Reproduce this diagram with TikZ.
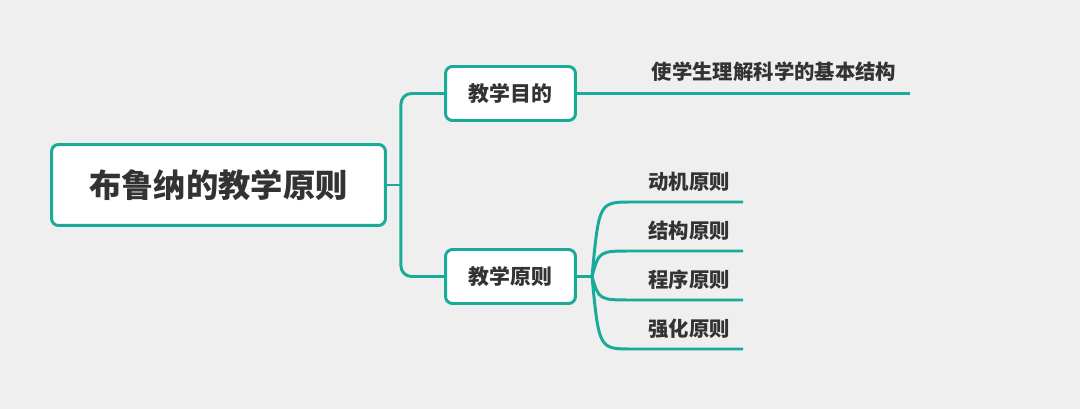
\documentclass[tikz,border=0pt]{standalone}
\usepackage{fontspec}
\newfontfamily\cjk{Noto Sans CJK SC}
\usepackage{tikz}
\usetikzlibrary{
	calc,
	positioning
}
\definecolor{bg}{HTML}{EFEFEF}
\definecolor{mindteal}{HTML}{1AAA98}
\definecolor{ink}{HTML}{333333}

\begin{document}
\begin{tikzpicture}[
				x=0.02cm, y=-0.02cm,
				branch/.style={draw=mindteal, line width=1.7pt},
				rootbox/.style={draw=mindteal, line width=1.7pt, fill=white, rounded corners=4pt, text=ink, font=\cjk\bfseries\fontsize{18.4}{22}\selectfont, minimum width=6.68cm, minimum height=1.62cm},
				subbox/.style={draw=mindteal, line width=1.7pt, fill=white, rounded corners=4pt, text=ink, font=\cjk\bfseries\fontsize{11.9}{14}\selectfont, minimum width=2.6cm, minimum height=1.08cm},
				leaf/.style={text=ink, font=\cjk\bfseries\fontsize{11.6}{14}\selectfont, inner sep=0pt}
			]
				% 背景
				\fill[bg] (0,0) rectangle (1080,409);
				% 中心主题
				\node[rootbox] (root)      at (218.5,185)   {布鲁纳的教学原则};
				% 子主题
				\node[subbox]  (goal)      at (510.5,93.5)  {教学目的};
				\node[subbox]  (principle) at (510.5,276.5) {教学原则};
				% 主干
				\coordinate (trunk) at ($(root.east)+(14,0)$);
				\draw[branch] (root.east) -- (trunk);
				\draw[branch, rounded corners=6pt] (goal.west) -| (trunk) |- (principle.west);
				% 教学目的
				\coordinate (goal-end) at (910,93.5);
				\node[leaf] (structure-aim) at (774,72) {使学生理解科学的基本结构};
				\draw[branch] (goal.east) -- (goal-end);
				% 教学原则
				\coordinate (fork) at (592,276.5);
				\draw[branch] (principle.east) -- (fork);
				\foreach \name/\y/\txt in {motive/202/动机原则, structure/251/结构原则, sequence/300/程序原则, reinforce/349/强化原则}{
					\coordinate (\name-start) at (632,\y);
					\coordinate (\name-end)   at (743,\y);
					\node[leaf, anchor=west] (\name) at (648,\y-20) {\txt};
					\draw[branch] (fork) .. controls (599,\y) .. (\name-start) -- (\name-end);
				}
			\end{tikzpicture}
\end{document}
